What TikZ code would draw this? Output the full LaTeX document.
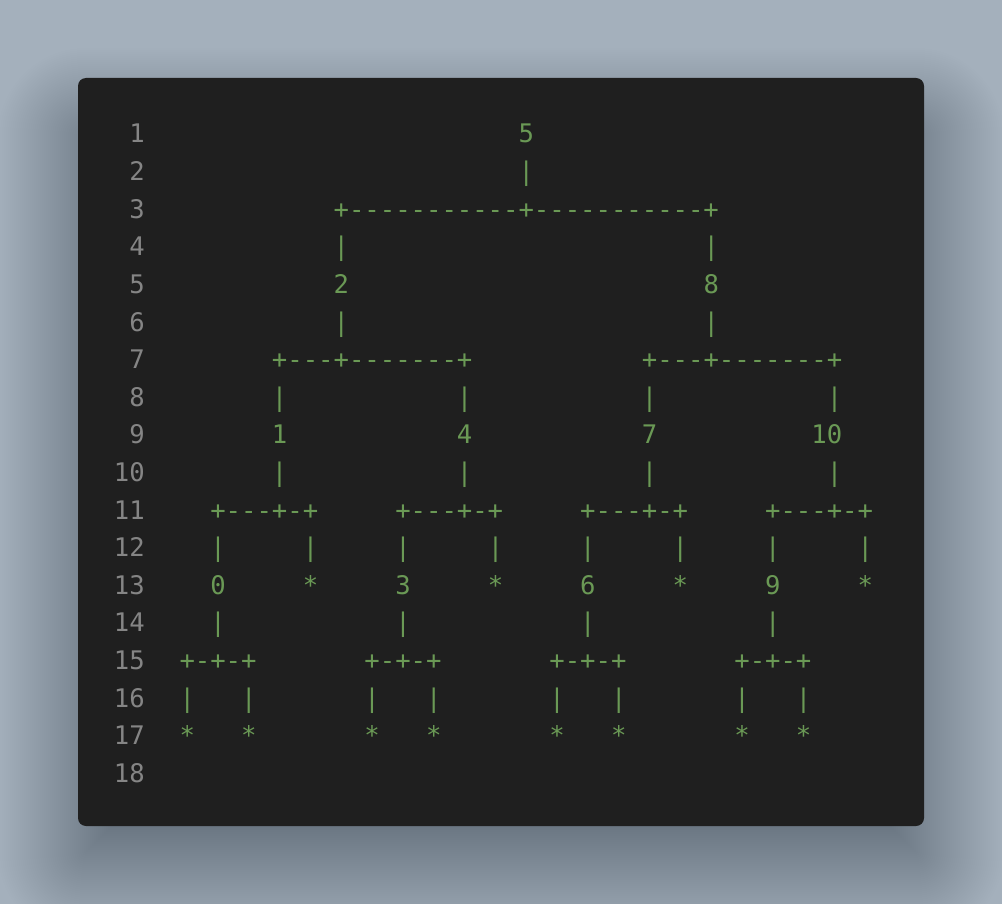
\documentclass[tikz,border=0pt]{standalone}
\usepackage{fontspec}
\newfontfamily\codefont{DejaVu Sans Mono}

\definecolor{bgouter}{HTML}{A4B0BC}
\definecolor{cardbg}{HTML}{1F1F1F}
\definecolor{lnumgray}{HTML}{858585}
\definecolor{codegreen}{HTML}{6A9955}

% blank columns inside a code line
\newcommand\gap[1]{\hspace*{#1\fontcharwd\font`0}}

\tikzset{
  codeline/.style={anchor=base west, inner sep=0pt, text=codegreen,
    font=\codefont\fontsize{25.6}{30}\selectfont},
  numline/.style={anchor=base east, inner sep=0pt, text=lnumgray,
    font=\codefont\fontsize{25.6}{30}\selectfont}
}

\begin{document}
\begin{tikzpicture}[x=1pt,y=-1pt]
	\fill[bgouter] (0,0) rectangle (1002,904); % background
	\useasboundingbox (0,0) rectangle (1002,904);
	
	\foreach \s in {-40,-38,...,80} {
		\pgfmathsetmacro\rad{max(1,8+\s)}
		\fill[black, opacity=0.0055, rounded corners=\rad] (78-\s,128-\s) rectangle (924+\s,860+\s); % soft shadow
	}
	\fill[cardbg, rounded corners=8] (78,78) rectangle (924,826); % card
	
	\foreach \n in {1,...,18} {
		\node[numline] (num\n) at (145,{143+(\n-1)*37.6}) {\n};
	}
	
	\node[codeline] (l1)  at (179.3,143) {\gap{22}5};
	\node[codeline] (l2)  at (179.3,180.6) {\gap{22}|};
	\node[codeline] (l3)  at (179.3,218.2) {\gap{10}+-----------+-----------+};
	\node[codeline] (l4)  at (179.3,255.8) {\gap{10}|\gap{23}|};
	\node[codeline] (l5)  at (179.3,293.4) {\gap{10}2\gap{23}8};
	\node[codeline] (l6)  at (179.3,331) {\gap{10}|\gap{23}|};
	\node[codeline] (l7)  at (179.3,368.6) {\gap{6}+---+-------+\gap{11}+---+-------+};
	\node[codeline] (l8)  at (179.3,406.2) {\gap{6}|\gap{11}|\gap{11}|\gap{11}|};
	\node[codeline] (l9)  at (179.3,443.8) {\gap{6}1\gap{11}4\gap{11}7\gap{10}10};
	\node[codeline] (l10) at (179.3,481.4) {\gap{6}|\gap{11}|\gap{11}|\gap{11}|};
	\node[codeline] (l11) at (179.3,519) {\gap{2}+---+-+\gap{5}+---+-+\gap{5}+---+-+\gap{5}+---+-+};
	\node[codeline] (l12) at (179.3,556.6) {\gap{2}|\gap{5}|\gap{5}|\gap{5}|\gap{5}|\gap{5}|\gap{5}|\gap{5}|};
	\node[codeline] (l13) at (179.3,594.2) {\gap{2}0\gap{5}*\gap{5}3\gap{5}*\gap{5}6\gap{5}*\gap{5}9\gap{5}*};
	\node[codeline] (l14) at (179.3,631.8) {\gap{2}|\gap{11}|\gap{11}|\gap{11}|};
	\node[codeline] (l15) at (179.3,669.4) {+-+-+\gap{7}+-+-+\gap{7}+-+-+\gap{7}+-+-+};
	\node[codeline] (l16) at (179.3,707) {|\gap{3}|\gap{7}|\gap{3}|\gap{7}|\gap{3}|\gap{7}|\gap{3}|};
	\node[codeline] (l17) at (179.3,744.6) {*\gap{3}*\gap{7}*\gap{3}*\gap{7}*\gap{3}*\gap{7}*\gap{3}*};
\end{tikzpicture}
\end{document}
